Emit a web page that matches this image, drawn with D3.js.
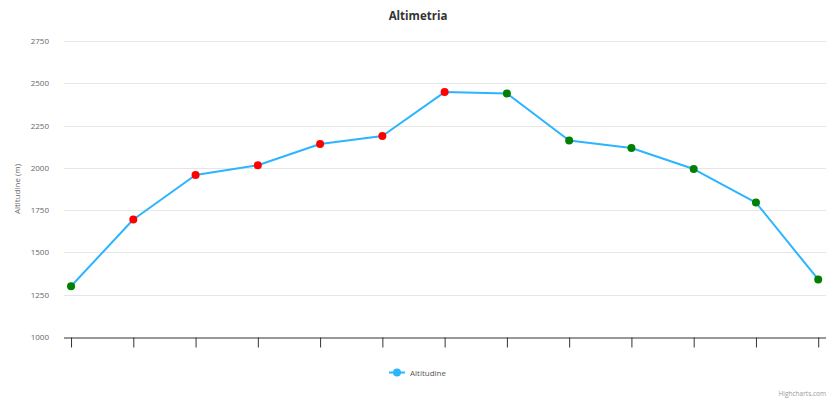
<!DOCTYPE html>
<html><head><meta charset="utf-8">
<script src="https://cdn.jsdelivr.net/npm/d3@7"></script>
<style>body{margin:0;background:#fff}svg{display:block;font-family:"Open Sans","Segoe UI",Arial,sans-serif}</style>
</head><body><svg id="c" width="836" height="400"></svg>
<script>
const categories = [0,1,2,3,4,5,6,7,8,9,10,11,12];
const altitudes = [1300,1695,1958,2015,2141,2188,2448,2440,2162,2117,1993,1795,1340];
const pointColors = ["green","red","red","red","red","red","red","green","green","green","green","green","green"];
const yTicks = [1000,1250,1500,1750,2000,2250,2500,2750];

(function () {
const svg = d3.select("#c");
const pLeft = 64, pRight = 826, pTop = 41, pBottom = 337;
const x = d3.scaleLinear().domain([-0.113, 12.125]).range([pLeft, pRight]);
const y = d3.scaleLinear().domain([1000, 2750]).range([pBottom, pTop]);

// gridlines
svg.append("g").selectAll("line").data(yTicks.slice(1)).join("line")
  .attr("x1", pLeft).attr("x2", pRight)
  .attr("y1", d => Math.round(y(d)) + 0.5).attr("y2", d => Math.round(y(d)) + 0.5)
  .attr("stroke", "#e6e6e6").attr("stroke-width", 1);

// y labels
svg.append("g").selectAll("text").data(yTicks).join("text")
  .attr("x", 49).attr("y", d => y(d) + 3)
  .attr("text-anchor", "end").attr("font-size", 8).attr("fill", "#666")
  .text(d => d);

// x axis
const xAxis = d3.axisBottom(x).tickValues(categories).tickSize(10).tickFormat("");
const gx = svg.append("g").attr("transform", `translate(0,${pBottom + 0.5})`).call(xAxis);
gx.select(".domain").attr("d", `M${pLeft},0.5H${pRight}`).attr("stroke", "#333");
gx.selectAll(".tick line").attr("stroke", "#333");

// y title
svg.append("text").attr("transform", `translate(20,189) rotate(-90)`)
  .attr("text-anchor", "middle").attr("font-size", 8).attr("fill", "#666")
  .text("Altitudine (m)");

// title
svg.append("text").attr("x", 418).attr("y", 20).attr("text-anchor", "middle")
  .attr("font-size", 11.5).attr("font-weight", "bold").attr("fill", "#333")
  .text("Altimetria");

// line
const line = d3.line().x((d, i) => x(categories[i])).y(d => y(d));
svg.append("path").datum(altitudes).attr("d", line)
  .attr("fill", "none").attr("stroke", "#2db4ff").attr("stroke-width", 2)
  .attr("stroke-linejoin", "round");

// points
svg.append("g").selectAll("circle").data(altitudes).join("circle")
  .attr("cx", (d, i) => x(categories[i])).attr("cy", d => y(d))
  .attr("r", 4).attr("fill", (d, i) => pointColors[i]);

// legend
const lg = svg.append("g");
lg.append("line").attr("x1", 389).attr("x2", 405).attr("y1", 372.5).attr("y2", 372.5)
  .attr("stroke", "#2db4ff").attr("stroke-width", 2);
lg.append("circle").attr("cx", 397).attr("cy", 372.5).attr("r", 4).attr("fill", "#2db4ff");
lg.append("text").attr("x", 410).attr("y", 375.5).attr("font-size", 8).attr("fill", "#555")
  .text("Altitudine");

// credits
svg.append("text").attr("x", 826).attr("y", 396).attr("text-anchor", "end")
  .attr("font-size", 6.5).attr("fill", "#999").text("Highcharts.com");
})();
</script></body></html>
